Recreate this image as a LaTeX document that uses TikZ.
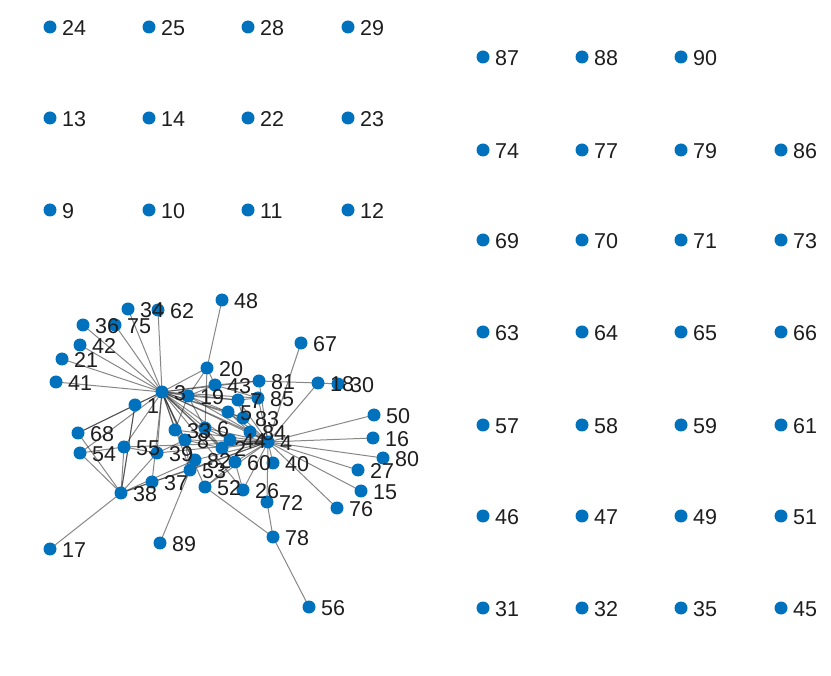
\documentclass[tikz,border=0pt]{standalone}
\usepackage{fontspec}
\setmainfont{Liberation Sans}
\usetikzlibrary{backgrounds}
\definecolor{mblue}{RGB}{0,114,189}
\definecolor{mtext}{RGB}{30,30,30}
\definecolor{medge}{RGB}{38,38,38}
\begin{document}
\begin{tikzpicture}[x=1pt,y=1pt,
  dot/.style={circle,fill=mblue,draw=none,minimum size=13pt,inner sep=0pt},
  lbl/.style={anchor=west,inner sep=0pt,text=mtext,font=\fontsize{21.5}{21.5}\selectfont},
  edge/.style={draw=medge,draw opacity=0.55,line width=1pt}]
\useasboundingbox (0,0) rectangle (831,-676);
\def\nodelist{24/50/27,25/149/27,28/248/27,29/348/27,
13/50/118,14/149/118,22/248/118,23/348/118,
9/50/210,10/149/210,11/248/210,12/348/210,
87/483/57,88/582/57,90/681/57,
74/483/150,77/582/150,79/681/150,86/781/150,
69/483/240,70/582/240,71/681/240,73/781/240,
63/483/332,64/582/332,65/681/332,66/781/332,
57/483/425,58/582/425,59/681/425,61/781/425,
46/483/516,47/582/516,49/681/516,51/781/516,
31/483/608,32/582/608,35/681/608,45/781/608,
1/135/405,3/162/392,4/268/442,15/361/491,16/373/438,17/50/549,
18/318/383,19/188/396,20/207/368,21/62/359,26/243/490,27/358/470,
30/338/384,33/175/430,34/128/309,36/83/325,37/152/482,38/121/493,
39/157/453,40/273/463,41/56/382,42/80/345,48/222/300,50/374/415,
52/205/487,53/190/470,54/80/453,55/124/447,56/309/607,60/235/462,
62/158/310,67/301/343,68/78/433,72/267/502,75/115/325,76/337/508,
78/273/537,80/383/458,81/259/381,82/195/460,83/243/418,84/250/432,
85/258/398,2/222/448,5/228/412,6/205/428,7/238/400,8/185/440,
43/215/385,44/230/440,89/160/543}
\foreach \n/\x/\y in \nodelist { \node[dot] (n\n) at (\x,-\y) {}; }
\foreach \n/\x/\y in \nodelist { \node[lbl] (l\n) at (\x+12,-\y-1) {\n}; }
\begin{pgfonlayer}{background}
\fill[white] (0,0) rectangle (831,-676);
\foreach \b in {34,62,36,75,42,21,41,1,20,19,43,6,8,33,39,55,68,54,2,5,7,83,4,53,82,60,44,84,52,37,85,81,26}
  { \draw[edge] (n3.center) -- (n\b.center); }
\foreach \b in {50,16,80,27,15,76,40,72,26,60,18,67,81,85,83,2,44,84,8,6,5,7,33,39,55,38,52,53,82,19}
  { \draw[edge] (n4.center) -- (n\b.center); }
\foreach \b in {17,54,55,68,37,1,39,82}
  { \draw[edge] (n38.center) -- (n\b.center); }
\foreach \a/\b in {1/68,1/38,55/54,55/39,48/20,78/52,78/72,78/56,89/53,18/30,81/18,
  20/19,20/43,20/6,19/43,19/5,19/7,19/6,19/33,8/39,8/53,8/82,8/2,8/33,
  37/53,52/60,26/60,6/2,5/83,7/85,43/81,6/44,5/84,2/60,33/82,7/83,43/85}
  { \draw[edge] (n\a.center) -- (n\b.center); }
\end{pgfonlayer}
\end{tikzpicture}
\end{document}
